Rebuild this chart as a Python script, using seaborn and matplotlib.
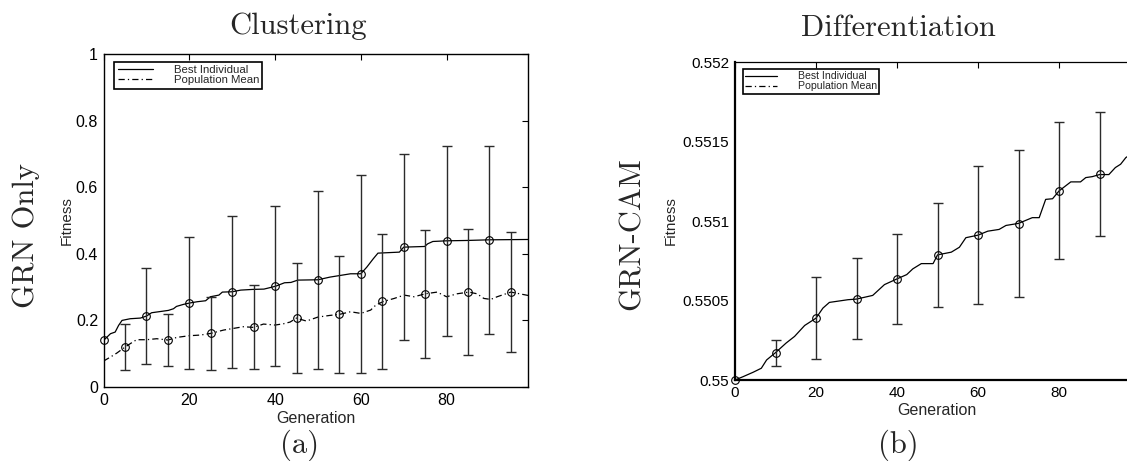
import matplotlib
matplotlib.use("Agg")
import matplotlib.pyplot as plt
import seaborn as sns
from matplotlib.lines import Line2D

# ---------------- data ----------------
# Clustering / GRN Only : best individual line
best_gen = [0, 1.6, 2.7, 3.5, 4.3, 6.2, 8.6, 10, 11.2, 15.1, 16.3, 17, 18.6, 20, 21.8,
            23.8, 24.9, 26.9, 27.7, 30, 32, 34.7, 37.4, 39, 40.2, 42.2, 43.7, 45.3, 50,
            52.8, 55.2, 57.6, 60, 61.4, 62.9, 64, 69, 70, 74.9, 75.6, 76.8, 80, 84.6, 90, 99]
best_fit = [.140, .160, .165, .185, .200, .205, .207, .213, .223, .230, .235, .242, .248,
            .252, .256, .259, .271, .276, .285, .286, .291, .293, .294, .299, .303, .313,
            .314, .321, .322, .330, .335, .340, .340, .360, .385, .402, .405, .420, .422,
            .430, .437, .439, .440, .442, .443]
# Clustering / GRN Only : population mean line
mean_gen = [0, 1.6, 3.1, 5, 6.2, 7.7, 10, 12.4, 15, 17.1, 20, 22.6, 25, 28, 30.3, 32.6,
            35, 37.3, 40, 42, 43.5, 45, 47.3, 50, 52.8, 55, 57.6, 60, 62.3, 63.5, 65.3,
            67.8, 70.1, 72.4, 75.1, 77.8, 80, 82.5, 85.2, 87.1, 88.7, 90.3, 91.8, 95, 99]
mean_fit = [.078, .090, .102, .120, .130, .142, .142, .145, .141, .149, .154, .156, .161,
            .171, .176, .181, .179, .189, .186, .190, .195, .207, .198, .210, .215, .218,
            .226, .221, .231, .246, .257, .266, .276, .271, .280, .285, .271, .280, .285,
            .280, .266, .263, .271, .285, .275]
# marked points with error bars
best_mark_gen = [0, 10, 20, 30, 40, 50, 60, 70, 80, 90]
best_mark_fit = [.140, .213, .252, .286, .303, .322, .340, .420, .439, .442]
best_mark_err = [0, .145, .199, .228, .240, .268, .297, .280, .286, .283]
mean_mark_gen = [5, 15, 25, 35, 45, 55, 65, 75, 85, 95]
mean_mark_fit = [.120, .141, .161, .179, .207, .218, .257, .280, .285, .285]
mean_mark_err = [.069, .078, .109, .126, .164, .176, .202, .192, .189, .180]

# Differentiation / GRN-CAM : best individual line
diff_gen = [0, 2, 4.5, 6.5, 7.8, 10, 12.6, 14.7, 17.2, 20, 21.7, 23.3, 27.9, 30, 34, 36.9,
            40, 42.4, 43.9, 46, 48.9, 50, 53.4, 55.4, 57, 60, 62.4, 65.2, 66.9, 70, 73.4,
            75.1, 76.7, 78.4, 80, 82.9, 85.3, 86.6, 88.2, 90, 92.3, 93.9, 95.2, 96.5, 99]
diff_fit = [.55, .550021, .550049, .550074, .550126, .550172, .550232, .550274, .550343,
            .550389, .550452, .550488, .550505, .550509, .550532, .5506, .550636, .550663,
            .550699, .550732, .550732, .550787, .550804, .550835, .550895, .550911,
            .550936, .550947, .550972, .550985, .551021, .551021, .551136, .55114,
            .551189, .551246, .551246, .551273, .551279, .551292, .551292, .551336,
            .551357, .551399, .55144]
diff_mark_gen = [0, 10, 20, 30, 40, 50, 60, 70, 80, 90]
diff_mark_fit = [.55, .550170, .550390, .550510, .550636, .550787, .550910, .550984,
                 .551189, .551293]
diff_mark_err = [0, .000079, .000255, .000255, .000282, .000326, .000433, .000462,
                 .000431, .000390]

left_xticks = [0, 20, 40, 60, 80]
left_yticks = [0, 0.2, 0.4, 0.6, 0.8, 1.0]
left_ylabels = ["0", "0.2", "0.4", "0.6", "0.8", "1"]
right_yticks = [0.55, 0.5505, 0.551, 0.5515, 0.552]
right_ylabels = ["0.55", "0.5505", "0.551", "0.5515", "0.552"]
legend_labels = ["Best Individual", "Population Mean"]

# ---------------- style ----------------
sns.set_style("white")
plt.rcParams["font.family"] = ["Liberation Sans", "DejaVu Sans"]
SERIF = "cmr10"

W, H = 1127, 461
fig = plt.figure(figsize=(W / 100, H / 100), dpi=100)
ax1 = fig.add_axes([103.6 / W, (H - 387) / H, 424.4 / W, 333 / H])
ax2 = fig.add_axes([735 / W, (H - 380) / H, 401 / W, 318 / H])

DASH = [5, 2.5, 1, 2.5]
ECOL = "#2b2b2b"


def style_axes(ax, lw_lb, lw_tr, lsize):
    for s in ("left", "bottom"):
        ax.spines[s].set_linewidth(lw_lb)
        ax.spines[s].set_color("black")
    for s in ("top", "right"):
        ax.spines[s].set_linewidth(lw_tr)
        ax.spines[s].set_color("black")
    ax.tick_params(direction="in", length=4, width=0.8, top=True, right=True,
                   labelsize=lsize, pad=4, colors="black")


# ---- left panel ----
sns.lineplot(x=best_gen, y=best_fit, ax=ax1, color="black", linewidth=0.9,
             estimator=None, sort=False, legend=False)
sns.lineplot(x=mean_gen, y=mean_fit, ax=ax1, color="black", linewidth=0.9,
             estimator=None, sort=False, legend=False, linestyle="-.")
ax1.lines[-1].set_dashes(DASH)
ax1.errorbar(best_mark_gen[1:], best_mark_fit[1:], yerr=best_mark_err[1:], fmt="none",
             ecolor=ECOL, elinewidth=1.0, capsize=3.5, capthick=1.0, zorder=2)
ax1.errorbar(mean_mark_gen, mean_mark_fit, yerr=mean_mark_err, fmt="none",
             ecolor=ECOL, elinewidth=1.0, capsize=3.5, capthick=1.0, zorder=2)
ax1.plot(best_mark_gen, best_mark_fit, "o", ms=5.5, mfc="none", mec="black", mew=0.8,
         clip_on=False, zorder=3)
ax1.plot(mean_mark_gen, mean_mark_fit, "o", ms=5.5, mfc="none", mec="black", mew=0.8,
         clip_on=False, zorder=3)
ax1.set_xlim(0, 99)
ax1.set_ylim(0, 1)
ax1.set_xticks(left_xticks)
ax1.set_xticklabels([str(v) for v in left_xticks])
ax1.set_yticks(left_yticks)
ax1.set_yticklabels(left_ylabels)
style_axes(ax1, 1.0, 1.0, 11.5)
ax1.set_xlabel("Generation", fontsize=11.5)
ax1.set_ylabel("Fitness", fontsize=11)
ax1.xaxis.set_label_coords(0.5, -0.071)
ax1.yaxis.set_label_coords(-0.07, 0.5)

# ---- right panel ----
sns.lineplot(x=diff_gen, y=diff_fit, ax=ax2, color="black", linewidth=0.9,
             estimator=None, sort=False, legend=False)
ax2.errorbar(diff_mark_gen[1:], diff_mark_fit[1:], yerr=diff_mark_err[1:], fmt="none",
             ecolor=ECOL, elinewidth=1.0, capsize=3.5, capthick=1.0, zorder=2)
ax2.plot(diff_mark_gen, diff_mark_fit, "o", ms=5.5, mfc="none", mec="black", mew=0.8,
         clip_on=False, zorder=3)
ax2.set_xlim(0, 99)
ax2.set_ylim(0.55, 0.552)
ax2.set_xticks(left_xticks)
ax2.set_xticklabels([str(v) for v in left_xticks])
ax2.set_yticks(right_yticks)
ax2.set_yticklabels(right_ylabels)
style_axes(ax2, 1.6, 0.9, 11)
ax2.set_xlabel("Generation", fontsize=11.5)
ax2.set_ylabel("Fitness", fontsize=11)
ax2.xaxis.set_label_coords((936.8 - 735) / 401, -0.072)
ax2.yaxis.set_label_coords((678 - 735) / 401, 0.5)

# ---- legends ----
def make_handles():
    h1 = Line2D([], [], color="black", lw=0.9)
    h2 = Line2D([], [], color="black", lw=0.9, linestyle="-.")
    h2.set_dashes(DASH)
    return [h1, h2]

leg1 = ax1.legend(make_handles(), legend_labels, loc="upper left",
                  bbox_to_anchor=(0.0252, 0.976), borderaxespad=0, fontsize=8.2,
                  handlelength=3.1, handletextpad=1.8, borderpad=0.3,
                  labelspacing=0.0, frameon=True, fancybox=False, framealpha=1)
leg1.get_frame().set_edgecolor("black")
leg1.get_frame().set_linewidth(1.2)

leg2 = ax2.legend(make_handles(), legend_labels, loc="upper left",
                  bbox_to_anchor=((743.3 - 735) / 401, (380 - 69.3) / 318),
                  borderaxespad=0, fontsize=7.6, handlelength=3.0, handletextpad=2.0,
                  borderpad=0.2, labelspacing=0.0, frameon=True, fancybox=False,
                  framealpha=1)
leg2.get_frame().set_edgecolor("black")
leg2.get_frame().set_linewidth(1.2)

# ---- serif panel text ----
fig.text(298 / W, 1 - 33.5 / H, "Clustering", family=SERIF, fontsize=22,
         ha="center", va="baseline")
fig.text(898.8 / W, 1 - 36 / H, "Differentiation", family=SERIF, fontsize=22,
         ha="center", va="baseline")
fig.text(26 / W, 1 - 236 / H, "GRN Only", family=SERIF, fontsize=22,
         ha="center", va="center", rotation=90)
fig.text(632.5 / W, 1 - 234 / H, "GRN-CAM", family=SERIF, fontsize=22,
         ha="center", va="center", rotation=90)
fig.text(300 / W, 1 - 445 / H, "(a)", family=SERIF, fontsize=22,
         ha="center", va="center")
fig.text(898.8 / W, 1 - 445 / H, "(b)", family=SERIF, fontsize=22,
         ha="center", va="center")

fig.savefig("out.png", dpi=100)
